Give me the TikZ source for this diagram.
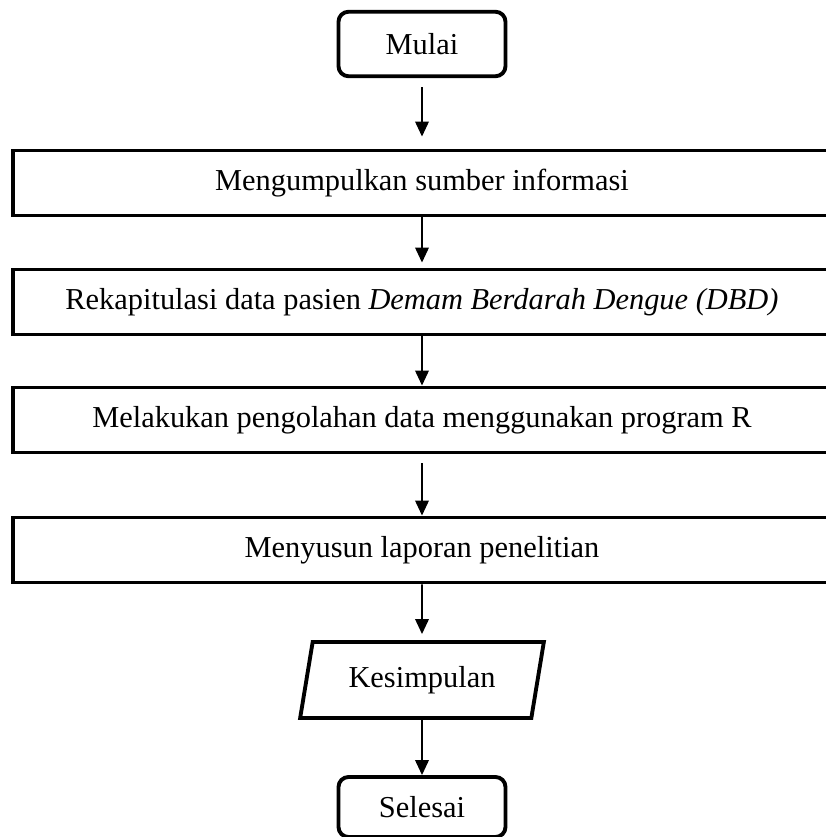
\documentclass[tikz,border=0pt]{standalone}
\usepackage{fontspec}
\setmainfont{Liberation Serif}
\usetikzlibrary{arrows.meta,shapes.geometric}

\begin{document}
\begin{tikzpicture}[
    terminal/.style={rectangle,draw,rounded corners=0.2cm,line width=2.2pt,minimum width=3.34cm,minimum height=1.29cm,font=\fontsize{17.3}{21}\selectfont},
    proses/.style={rectangle,draw,line width=2.2pt,minimum width=16.36cm,minimum height=1.3cm,font=\fontsize{17.3}{21}\selectfont},
    io/.style={trapezium,draw,trapezium left angle=77,trapezium right angle=103,trapezium stretches=true,line width=2.2pt,minimum width=4.9cm,minimum height=1.52cm,font=\fontsize{17.3}{21}\selectfont},
    panah/.style={-{Triangle[length=0.3cm,width=0.27cm]},line width=1.1pt}
    ]

    % page frame
    \useasboundingbox (0,0) rectangle (16.52,-16.74);

    % start
    \node[terminal] (mulai) at (8.44,-0.88) {Mulai};

    % collecting sources
    \node[proses] (kumpul) at (8.44,-3.66) {Mengumpulkan sumber informasi};
    \draw[panah,shorten <=0.18cm,shorten >=0.24cm] (mulai) to (kumpul);

    % patient data recap
    \node[proses] (rekap) at (8.44,-6.04) {Rekapitulasi data pasien \textit{Demam Berdarah Dengue (DBD)}};
    \draw[panah,shorten >=0.1cm] (kumpul) to (rekap);

    % data processing
    \node[proses] (olah) at (8.44,-8.40) {Melakukan pengolahan data menggunakan program R};
    \draw[panah] (rekap) to (olah);

    % writing the report
    \node[proses] (susun) at (8.44,-11.0) {Menyusun laporan penelitian};
    \draw[panah,shorten <=0.18cm] (olah) to (susun);

    % conclusion
    \node[io] (simpul) at (8.44,-13.60) {Kesimpulan};
    \draw[panah,shorten >=0.12cm] (susun) to (simpul);

    % end
    \node[terminal,minimum height=1.2cm] (selesai) at (8.44,-16.14) {Selesai};
    \draw[panah] (simpul) to (selesai);

\end{tikzpicture}
\end{document}
